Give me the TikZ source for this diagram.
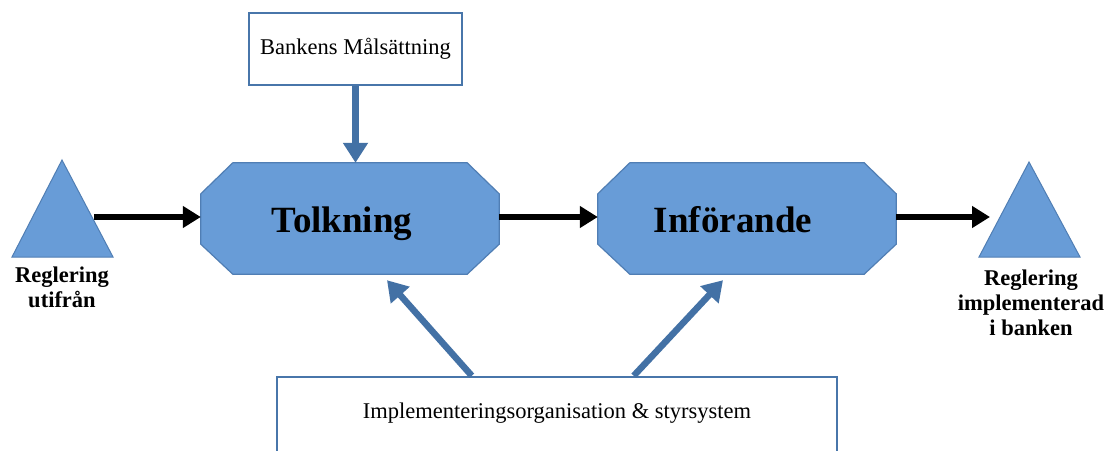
\documentclass[tikz,border=0pt]{standalone}
\usepackage{fontspec}
\setmainfont{Liberation Serif}
\usetikzlibrary{arrows.meta,calc,backgrounds}
\definecolor{octfill}{RGB}{104,156,215}
\definecolor{octline}{RGB}{80,126,180}
\definecolor{arrblue}{RGB}{67,113,165}
\definecolor{boxline}{RGB}{72,118,170}
\tikzset{
  octo/.style={rectangle, inner sep=0pt, minimum width=298pt, minimum height=111pt,
    text height=28pt, text depth=0pt, font=\fontsize{37}{40}\selectfont\bfseries},
  octshape/.style={fill=octfill, draw=octline, line width=1.2pt},
  wbox/.style={rectangle, draw=boxline, line width=2.5pt, fill=white, inner sep=0pt},
  tri/.style={fill=octfill, draw=octline, line width=1pt},
  blk/.style={line width=6.5pt, black, -{Triangle[length=18pt,width=21pt]}},
  blu/.style={line width=6.5pt, arrblue, -{Triangle[length=20pt,width=24pt]}},
  lbl/.style={font=\fontsize{22.5}{25}\selectfont\bfseries, align=center, inner sep=0pt},
  txt/.style={font=\fontsize{22.5}{26}\selectfont, inner sep=0pt}
}
\newcommand{\octpath}[1]{%
  \draw[octshape] ($(#1.north west)+(32,0)$) -- ($(#1.north east)+(-32,0)$)
    -- ($(#1.north east)+(0,31)$) -- ($(#1.south east)+(0,-30)$)
    -- ($(#1.south east)+(-32,0)$) -- ($(#1.south west)+(32,0)$)
    -- ($(#1.south west)+(0,-30)$) -- ($(#1.north west)+(0,31)$) -- cycle;}
\begin{document}
\begin{tikzpicture}[x=1pt,y=-1pt]
\useasboundingbox (0,0) rectangle (1105,450);
\clip (0,0) rectangle (1105,450);
% triangles
\draw[tri] (12,257) -- (62,160) -- (113,257) -- cycle;
\coordinate (trileft) at (94,217);
\draw[tri] (979,257) -- (1029,162) -- (1080,257) -- cycle;
\coordinate (triright) at (990,217);
\node[lbl] (lblleft) at (62,287) {Reglering\\utifrån};
\node[lbl] (lblright) at (1031,303) {Reglering\\implementerad\\i banken};
% octagons
\node[octo] (tolk) at (350,218.5) {Tolkning\hspace*{16pt}};
\node[octo] (inf) at (747,218.5) {Införande\hspace*{28pt}};
\begin{scope}[on background layer]
\fill[white] (0,0) rectangle (1105,450);
\octpath{tolk}
\octpath{inf}
\end{scope}
% top box
\node[wbox, minimum width=213pt, minimum height=72pt, txt] (mal) at (355.5,49) {Bankens Målsättning};
% bottom box
\node[wbox, minimum width=560pt, minimum height=90pt] (impl) at (557,422) {};
\node[txt] (impltext) at (557,413) {Implementeringsorganisation \& styrsystem};
% arrows
\draw[blk] (trileft) -- (tolk.west |- trileft);
\draw[blk] (tolk.east |- trileft) -- (inf.west |- trileft);
\draw[blk] (inf.east |- trileft) -- (triright);
\draw[blu] (mal.south) -- (mal.south |- tolk.north);
\draw[blu] ($(impl.north west)+(196,0)$) -- ($(tolk.south)+(37,6)$);
\draw[blu] ($(impl.north west)+(358,0)$) -- ($(inf.south)+(-24,6)$);
\end{tikzpicture}
\end{document}
